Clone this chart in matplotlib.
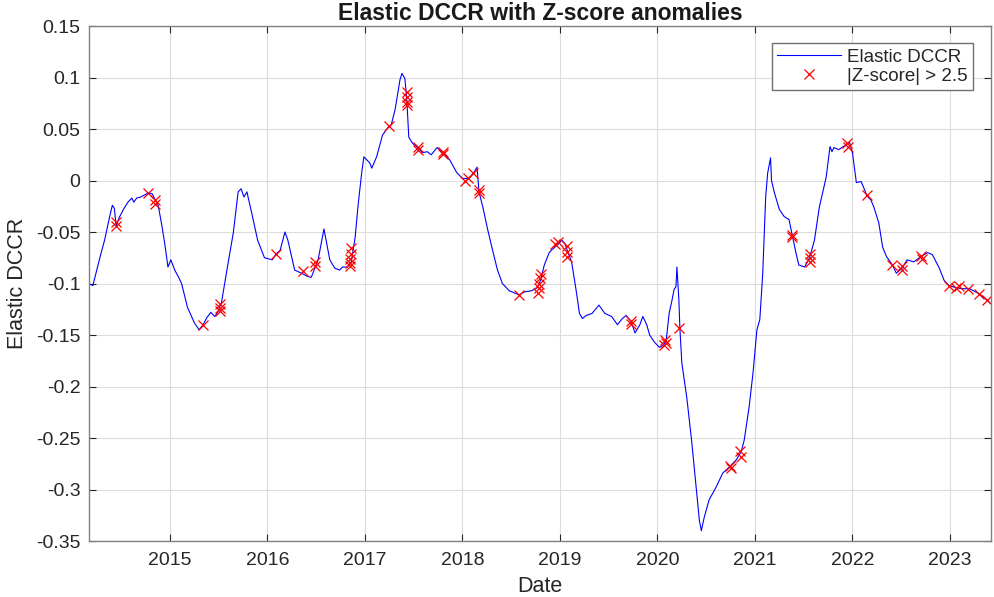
import numpy as np
import matplotlib.pyplot as plt

plt.rcParams['font.family'] = ['Liberation Sans', 'DejaVu Sans']

# Elastic DCCR series (decimal year, value)
t_line = [2014.17, 2014.21, 2014.25, 2014.29, 2014.33, 2014.38, 2014.41, 2014.43, 2014.45, 2014.48,
          2014.53, 2014.57, 2014.61, 2014.63, 2014.66, 2014.70, 2014.74, 2014.78, 2014.82, 2014.85,
          2014.88, 2014.92, 2014.95, 2014.98, 2015.01, 2015.05, 2015.09, 2015.12, 2015.18, 2015.25,
          2015.30, 2015.34, 2015.38, 2015.42, 2015.46, 2015.49, 2015.53, 2015.59, 2015.65, 2015.70,
          2015.73, 2015.76, 2015.79, 2015.84, 2015.90, 2015.97, 2016.05, 2016.09, 2016.13, 2016.18,
          2016.21, 2016.28, 2016.35, 2016.41, 2016.45, 2016.52, 2016.58, 2016.64, 2016.69, 2016.74,
          2016.77, 2016.82, 2016.86, 2016.90, 2016.93, 2016.97, 2016.99, 2017.02, 2017.05, 2017.07,
          2017.12, 2017.18, 2017.24, 2017.27, 2017.31, 2017.36, 2017.38, 2017.41, 2017.43, 2017.45,
          2017.49, 2017.54, 2017.59, 2017.64, 2017.68, 2017.74, 2017.80, 2017.87, 2017.94, 2018.00,
          2018.07, 2018.12, 2018.15, 2018.17, 2018.21, 2018.26, 2018.31, 2018.36, 2018.41, 2018.48,
          2018.58, 2018.64, 2018.71, 2018.77, 2018.80, 2018.84, 2018.89, 2018.92, 2018.97, 2019.02,
          2019.05, 2019.08, 2019.12, 2019.17, 2019.20, 2019.23, 2019.27, 2019.33, 2019.40, 2019.46,
          2019.53, 2019.59, 2019.64, 2019.68, 2019.73, 2019.77, 2019.82, 2019.85, 2019.89, 2019.92,
          2019.97, 2020.02, 2020.06, 2020.09, 2020.12, 2020.15, 2020.17, 2020.19, 2020.20, 2020.22,
          2020.23, 2020.25, 2020.30, 2020.35, 2020.40, 2020.43, 2020.45, 2020.48, 2020.53, 2020.60,
          2020.67, 2020.74, 2020.81, 2020.86, 2020.89, 2020.94, 2020.98, 2021.02, 2021.05, 2021.08,
          2021.11, 2021.13, 2021.16, 2021.17, 2021.20, 2021.25, 2021.30, 2021.35, 2021.38, 2021.42,
          2021.45, 2021.51, 2021.56, 2021.61, 2021.66, 2021.73, 2021.77, 2021.79, 2021.81, 2021.86,
          2021.94, 2021.97, 2022.00, 2022.04, 2022.09, 2022.15, 2022.19, 2022.22, 2022.27, 2022.31,
          2022.35, 2022.41, 2022.45, 2022.51, 2022.56, 2022.63, 2022.70, 2022.77, 2022.82, 2022.89,
          2022.94, 2022.99, 2023.06, 2023.12, 2023.20, 2023.30, 2023.38, 2023.41]
v_line = [-0.100, -0.102, -0.087, -0.072, -0.058, -0.036, -0.024, -0.027, -0.044, -0.036,
          -0.027, -0.021, -0.017, -0.021, -0.017, -0.016, -0.014, -0.012, -0.013, -0.019,
          -0.024, -0.045, -0.063, -0.084, -0.077, -0.087, -0.094, -0.100, -0.123, -0.138,
          -0.145, -0.140, -0.133, -0.128, -0.132, -0.128, -0.118, -0.084, -0.051, -0.011,
          -0.008, -0.016, -0.011, -0.032, -0.058, -0.075, -0.077, -0.071, -0.068, -0.050,
          -0.058, -0.087, -0.090, -0.093, -0.094, -0.077, -0.047, -0.077, -0.085, -0.087,
          -0.084, -0.084, -0.079, -0.055, -0.024, 0.010, 0.023, 0.020, 0.017, 0.012,
          0.023, 0.044, 0.052, 0.054, 0.069, 0.098, 0.104, 0.099, 0.078, 0.042,
          0.036, 0.032, 0.027, 0.028, 0.025, 0.032, 0.027, 0.020, 0.008, 0.002,
          0.002, 0.008, 0.013, -0.011, -0.026, -0.048, -0.068, -0.087, -0.100, -0.107,
          -0.111, -0.108, -0.107, -0.104, -0.097, -0.082, -0.070, -0.067, -0.063, -0.058,
          -0.061, -0.069, -0.079, -0.109, -0.129, -0.134, -0.131, -0.129, -0.121, -0.129,
          -0.132, -0.140, -0.134, -0.131, -0.137, -0.148, -0.140, -0.132, -0.140, -0.150,
          -0.157, -0.162, -0.160, -0.155, -0.129, -0.116, -0.106, -0.103, -0.084, -0.116,
          -0.143, -0.177, -0.210, -0.252, -0.301, -0.330, -0.340, -0.327, -0.310, -0.298,
          -0.284, -0.278, -0.271, -0.263, -0.252, -0.220, -0.187, -0.145, -0.135, -0.090,
          -0.016, 0.007, 0.022, 0.000, -0.012, -0.028, -0.035, -0.038, -0.052, -0.070,
          -0.082, -0.084, -0.075, -0.058, -0.026, 0.003, 0.033, 0.028, 0.032, 0.030,
          0.035, 0.037, 0.027, -0.002, -0.001, -0.015, -0.019, -0.026, -0.041, -0.065,
          -0.074, -0.082, -0.090, -0.085, -0.077, -0.079, -0.074, -0.070, -0.072, -0.085,
          -0.097, -0.102, -0.104, -0.105, -0.105, -0.110, -0.116, -0.119]

# anomalies with |Z-score| > 2.5
t_anom = [2014.45, 2014.45, 2014.78, 2014.85, 2014.85, 2015.34, 2015.51, 2015.51, 2015.51, 2016.09,
          2016.37, 2016.49, 2016.49, 2016.86, 2016.86, 2016.85, 2016.85, 2016.85, 2017.25, 2017.43,
          2017.43, 2017.43, 2017.43, 2017.54, 2017.54, 2017.80, 2017.80, 2018.03, 2018.06, 2018.11,
          2018.17, 2018.17, 2018.58, 2018.78, 2018.79, 2018.79, 2018.80, 2018.81, 2018.95, 2018.98,
          2019.07, 2019.07, 2019.07, 2019.73, 2019.73, 2020.07, 2020.08, 2020.09, 2020.22, 2020.74,
          2020.75, 2020.85, 2020.86, 2021.38, 2021.38, 2021.56, 2021.56, 2021.56, 2021.94, 2021.95,
          2022.15, 2022.41, 2022.51, 2022.51, 2022.70, 2022.71, 2022.99, 2023.06, 2023.09, 2023.18,
          2023.30, 2023.38]
v_anom = [-0.040, -0.044, -0.012, -0.019, -0.023, -0.140, -0.120, -0.124, -0.127, -0.071,
          -0.088, -0.079, -0.083, -0.066, -0.071, -0.076, -0.080, -0.083, 0.053, 0.086,
          0.081, 0.076, 0.073, 0.033, 0.030, 0.028, 0.026, 0.000, 0.002, 0.007,
          -0.009, -0.012, -0.111, -0.109, -0.104, -0.100, -0.095, -0.091, -0.062, -0.060,
          -0.064, -0.069, -0.074, -0.136, -0.139, -0.160, -0.155, -0.158, -0.143, -0.277,
          -0.279, -0.263, -0.268, -0.053, -0.055, -0.071, -0.075, -0.079, 0.036, 0.033,
          -0.014, -0.082, -0.083, -0.087, -0.073, -0.076, -0.102, -0.104, -0.102, -0.105,
          -0.110, -0.116]

years = list(range(2015, 2024))
yticks = [-0.35, -0.3, -0.25, -0.2, -0.15, -0.1, -0.05, 0, 0.05, 0.1, 0.15]
ytick_labels = ['-0.35', '-0.3', '-0.25', '-0.2', '-0.15', '-0.1', '-0.05', '0', '0.05', '0.1', '0.15']

fig = plt.figure(figsize=(9.95, 5.97), dpi=100)
ax = fig.add_axes([0.0894, 0.0938, 0.9065, 0.8626])

ax.plot(t_line, v_line, color='blue', lw=0.8, label='Elastic DCCR')
ax.plot(t_anom, v_anom, 'x', color='red', ms=6.5, mew=0.9, label='|Z-score| > 2.5')

ax.set_xlim(2014.17, 2023.42)
ax.set_ylim(-0.35, 0.15)
ax.set_xticks(years)
ax.set_xticklabels([str(y) for y in years])
ax.set_yticks(yticks)
ax.set_yticklabels(ytick_labels)

ax.grid(True, color='#dcdcdc', lw=0.8)
ax.set_axisbelow(True)
for s in ax.spines.values():
    s.set_color('#808080')
    s.set_linewidth(1.0)
ax.tick_params(direction='in', top=True, right=True, length=5, color='#262626',
               labelsize=14, labelcolor='#262626')
ax.tick_params(axis='x', pad=8)
ax.tick_params(axis='y', pad=6)

ax.set_xlabel('Date', fontsize=15.5, color='#262626', labelpad=5)
ax.set_ylabel('Elastic DCCR', fontsize=15.5, color='#262626', labelpad=6)
ax.set_title('Elastic DCCR with Z-score anomalies', fontsize=16.5, fontweight='bold',
             color='#1a1a1a', pad=4)

leg = ax.legend(loc='upper right', bbox_to_anchor=(0.98, 0.967), fontsize=13.5,
                fancybox=False, framealpha=1, edgecolor='#707070', borderpad=0.3,
                handlelength=3.4, handletextpad=0.3, labelspacing=0.1, borderaxespad=0)
leg.get_frame().set_linewidth(1.0)
for txt in leg.get_texts():
    txt.set_color('#262626')

fig.savefig('out.png', dpi=100)
